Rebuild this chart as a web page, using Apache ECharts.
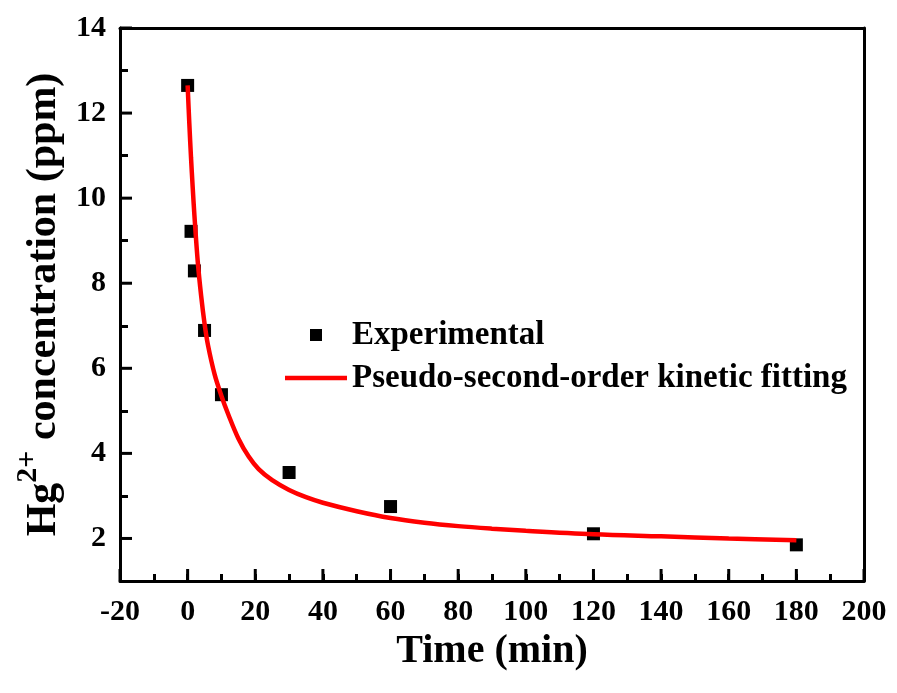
<!DOCTYPE html>
<html>
<head>
<meta charset="utf-8">
<script src="https://cdn.jsdelivr.net/npm/echarts@6/dist/echarts.min.js"></script>
<style>html,body{margin:0;padding:0;background:#fff}#c{width:897px;height:693px}</style>
</head>
<body>
<div id="c"></div>
<script>
// Experimental data
const expTime = [0, 1, 2, 5, 10, 30, 60, 120, 180];
const expConc = [12.65, 9.22, 8.29, 6.89, 5.38, 3.55, 2.75, 2.11, 1.85];
// Pseudo-second-order fitting curve
const fitTime = [0, 0.5, 1, 1.5, 2, 3, 4, 5, 6, 8, 10, 12, 15, 18, 21, 25, 30, 35, 40, 50, 60, 70, 80, 90, 100, 120, 140, 160, 180];
const fitConc = [12.65, 11.75, 10.95, 10.25, 9.6, 8.5, 7.7, 7.05, 6.55, 5.85, 5.35, 4.92, 4.35, 3.93, 3.63, 3.37, 3.14, 2.97, 2.84, 2.64, 2.48, 2.37, 2.29, 2.23, 2.18, 2.10, 2.05, 2.00, 1.96];
// Tick values
const xMajor = [-20, 0, 20, 40, 60, 80, 100, 120, 140, 160, 180, 200];
const yMajor = [2, 4, 6, 8, 10, 12, 14];
const yMinor = [3, 5, 7, 9, 11, 13];

const FONT = 'Liberation Serif';
const X_MIN = -20, Y_MIN = 1;
const chart = echarts.init(document.getElementById('c'));
const expData = expTime.map((t, i) => [t, expConc[i]]);
const fitData = fitTime.map((t, i) => [t, fitConc[i]]);
const blk = () => ({color: '#000', width: 3});

const yAxes = [{
  type: 'value', min: Y_MIN, max: 14, position: 'left',
  name: '{n|Hg}{sup|2+}{n| concentration (ppm)}', nameLocation: 'middle', nameGap: 47,
  nameTextStyle: {fontFamily: FONT, fontWeight: 'bold', fontSize: 42, color: '#000',
    rich: {
      n: {fontFamily: FONT, fontWeight: 'bold', fontSize: 42, lineHeight: 52, verticalAlign: 'bottom', color: '#000'},
      sup: {fontFamily: FONT, fontWeight: 'bold', fontSize: 30, lineHeight: 30, verticalAlign: 'top', color: '#000'}
    }},
  axisLine: {show: true, onZero: false, lineStyle: blk()},
  axisTick: {show: false},
  axisLabel: {show: true, fontFamily: FONT, fontWeight: 'bold', fontSize: 30, color: '#000', margin: 14, customValues: yMajor},
  splitLine: {show: false}
}, {
  type: 'value', min: Y_MIN, max: 14, position: 'right',
  axisLine: {show: true, onZero: false, lineStyle: blk()},
  axisTick: {show: false}, axisLabel: {show: false}, splitLine: {show: false}
}];
yMinor.forEach(v => yAxes.push({type: 'value', min: Y_MIN, max: 14, position: 'left',
  axisLine: {show: false, onZero: false},
  axisTick: {show: true, inside: true, length: 8, customValues: [v], lineStyle: blk()},
  axisLabel: {show: false}, splitLine: {show: false}}));

// major tick marks drawn through the axis scales with a custom series
function tickSeries(data, horizontal) {
  return {
    type: 'custom', name: horizontal ? 'yticks' : 'xticks', silent: true, clip: false, z: 5,
    xAxisIndex: 0, yAxisIndex: 0, data: data,
    renderItem: function (params, api) {
      const p = api.coord([api.value(0), api.value(1)]);
      return {type: 'line',
        shape: horizontal ? {x1: p[0], y1: p[1], x2: p[0] + 12, y2: p[1]} : {x1: p[0], y1: p[1], x2: p[0], y2: p[1] - 12},
        style: {stroke: '#000', lineWidth: 3}};
    }
  };
}

chart.setOption({
  animation: false,
  grid: {left: 120, right: 33, top: 28, bottom: 112},
  xAxis: [{
    type: 'value', min: X_MIN, max: 200, interval: 20, position: 'bottom',
    name: 'Time (min)', nameLocation: 'middle', nameGap: 49,
    nameTextStyle: {fontFamily: FONT, fontWeight: 'bold', fontSize: 40, color: '#000'},
    axisLine: {show: true, onZero: false, lineStyle: blk()},
    axisTick: {show: false},
    axisLabel: {show: true, fontFamily: FONT, fontWeight: 'bold', fontSize: 30, color: '#000', margin: 16},
    splitLine: {show: false}
  }, {
    type: 'value', min: X_MIN, max: 200, interval: 10, position: 'bottom',
    axisLine: {show: false, onZero: false},
    axisTick: {show: true, inside: true, length: 7, lineStyle: blk()},
    axisLabel: {show: false}, splitLine: {show: false}
  }, {
    type: 'value', min: X_MIN, max: 200, interval: 20, position: 'top',
    axisLine: {show: true, onZero: false, lineStyle: blk()},
    axisTick: {show: false}, axisLabel: {show: false}, splitLine: {show: false}
  }],
  yAxis: yAxes,
  legend: {
    orient: 'vertical', left: 280, top: 313, itemWidth: 62, itemHeight: 12, itemGap: 9,
    textStyle: {fontFamily: FONT, fontWeight: 'bold', fontSize: 33, lineHeight: 34, color: '#000'},
    data: [
      {name: 'Experimental', icon: 'path://M0,0 M62,12 M25,0 L37,0 L37,12 L25,12 Z'},
      {name: 'Pseudo-second-order kinetic fitting', icon: 'path://M0,0 M62,12 M0,3.75 L62,3.75 L62,8.25 L0,8.25 Z'}
    ]
  },
  series: [{
    name: 'Pseudo-second-order kinetic fitting', type: 'line', data: fitData,
    xAxisIndex: 0, yAxisIndex: 0,
    symbol: 'none', smooth: 0.35,
    lineStyle: {color: '#ff0000', width: 4.5}, itemStyle: {color: '#ff0000'}
  }, {
    name: 'Experimental', type: 'scatter', data: expData,
    xAxisIndex: 0, yAxisIndex: 0,
    symbol: 'rect', symbolSize: 13, itemStyle: {color: '#000', opacity: 1}
  },
  tickSeries(xMajor.map(v => [v, Y_MIN]), false),
  tickSeries(yMajor.map(v => [X_MIN, v]), true)]
});
</script>
</body>
</html>
